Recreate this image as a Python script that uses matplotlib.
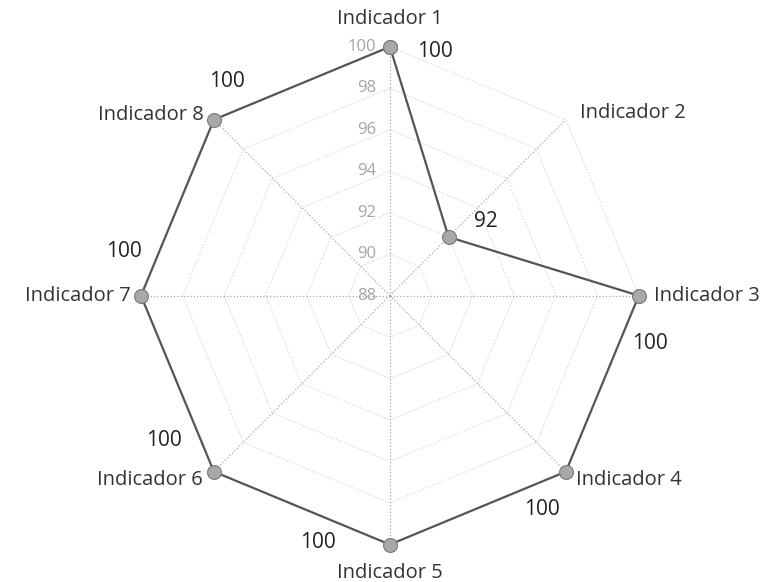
import numpy as np
import matplotlib
matplotlib.use("Agg")
import matplotlib.pyplot as plt

plt.rcParams['font.family'] = ['Open Sans', 'DejaVu Sans']

# data
categories = ["Indicador 1", "Indicador 2", "Indicador 3", "Indicador 4",
              "Indicador 5", "Indicador 6", "Indicador 7", "Indicador 8"]
values = [100, 92, 100, 100, 100, 100, 100, 100]
r_ticks = [88, 90, 92, 94, 96, 98, 100]

# label offsets (pixels) - value labels and category labels
val_off = [(45, -5), (37, 15), (11, -48), (-24, -38), (-72, 2), (-50, 31), (-17, 44), (13, 38)]
cat_off = [(0, 28, 'center'), (14, 7, 'left'), (15, 0, 'left'), (10, -8, 'left'),
           (0, -28, 'center'), (-11, -8, 'right'), (-10, 0, 'right'), (-10, 5, 'right')]

n = len(categories)
angles = np.arange(n) * 2 * np.pi / n

fig = plt.figure(figsize=(7.79, 5.82), dpi=100)
ax = fig.add_axes([0.181, 0.064, 0.639, 0.856], projection='polar')
ax.set_theta_zero_location('N')
ax.set_theta_direction(-1)
ax.set_ylim(88, 100)
ax.grid(False)
ax.set_xticks([])
ax.set_yticks([])
ax.spines['polar'].set_visible(False)
ax.patch.set_alpha(0)

# web gridlines
closed = np.append(angles, angles[0])
for t in r_ticks[1:]:
    ax.plot(closed, [t] * (n + 1), color='#d0d0d0', lw=0.8, ls=':', zorder=1)
for a in angles:
    ax.plot([a, a], [88, 100], color='#a8a8a8', lw=0.9, ls=':', zorder=1)

# tick labels along first axis
for t in r_ticks:
    ax.annotate(str(t), (0, t), xytext=(-14, 0), textcoords='offset pixels',
                ha='right', va='center', fontsize=12, color='#a5a5a5')

# data
ax.plot(np.append(angles, angles[0]), values + values[:1], color='#555555', lw=1.6,
        marker='o', ms=10, mfc='#a8a8a8', mec='#7a7a7a', mew=0.8, zorder=3,
        clip_on=False)

for a, v, off in zip(angles, values, val_off):
    ax.annotate(str(v), (a, v), xytext=off, textcoords='offset pixels',
                ha='center', va='center', fontsize=15, color='#222222')

for a, c, (dx, dy, ha) in zip(angles, categories, cat_off):
    ax.annotate(c, (a, 100), xytext=(dx, dy), textcoords='offset pixels',
                ha=ha, va='center', fontsize=14.5, color='#333333')

fig.savefig("out.png", dpi=100)
